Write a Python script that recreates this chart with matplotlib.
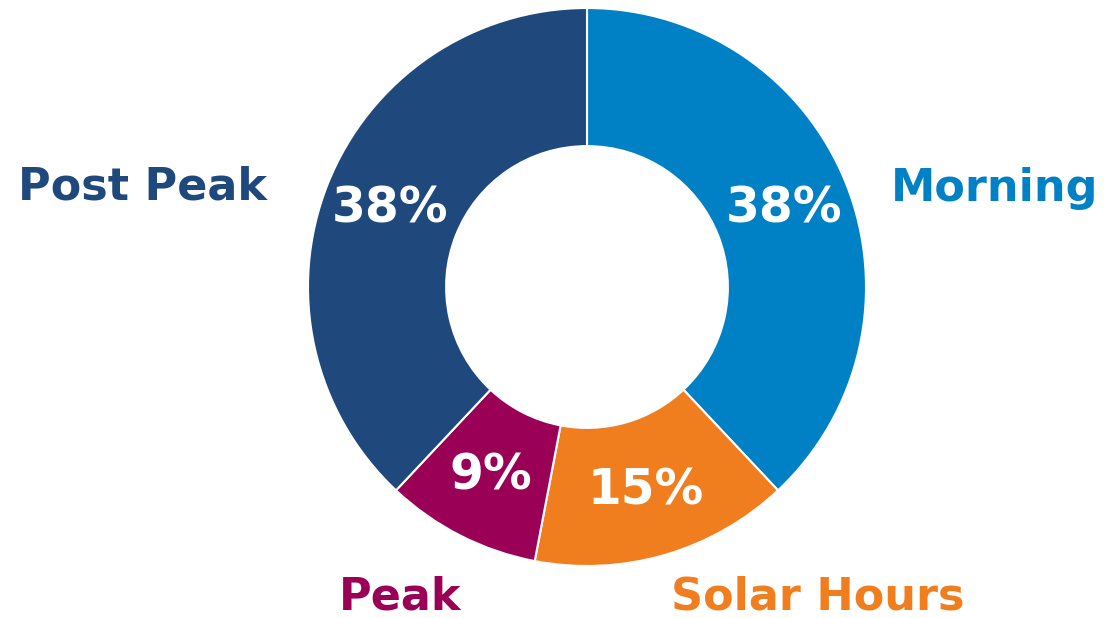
import matplotlib
matplotlib.use('Agg')
import matplotlib.pyplot as plt

# data (clockwise from 12 o'clock)
labels = ['Morning', 'Solar Hours', 'Peak', 'Post Peak']
shares = [38, 15, 9, 38]
colors = ['#0081C6', '#F07E1F', '#9B0057', '#1F497D']

# outer label anchor points in pixel space (x, y from top)
label_pos = {
    'Morning': (995, 188),
    'Solar Hours': (818, 597),
    'Peak': (400, 597),
    'Post Peak': (143, 187),
}

W, H = 1119, 618
fig = plt.figure(figsize=(W / 100, H / 100), dpi=100)
ax = fig.add_axes([0, 0, 1, 1])

cx, cy, r = 587, H - 287, 279

wedges, texts, autotexts = ax.pie(
    shares, colors=colors, startangle=90, counterclock=False,
    center=(cx, cy), radius=r, autopct='%d%%', pctdistance=0.76,
    wedgeprops=dict(width=r * 0.495, edgecolor='white', linewidth=1.5),
    textprops=dict(color='white', fontsize=35, fontweight='bold',
                   family='DejaVu Sans'),
)
ax.set_xlim(0, W)
ax.set_ylim(0, H)
ax.set_aspect('equal')
ax.axis('off')

for lab, col in zip(labels, colors):
    x, y = label_pos[lab]
    ax.text(x, H - y, lab, color=col, fontsize=32, fontweight='bold',
            family='DejaVu Sans', ha='center', va='center')

fig.savefig('out.png', dpi=100)
